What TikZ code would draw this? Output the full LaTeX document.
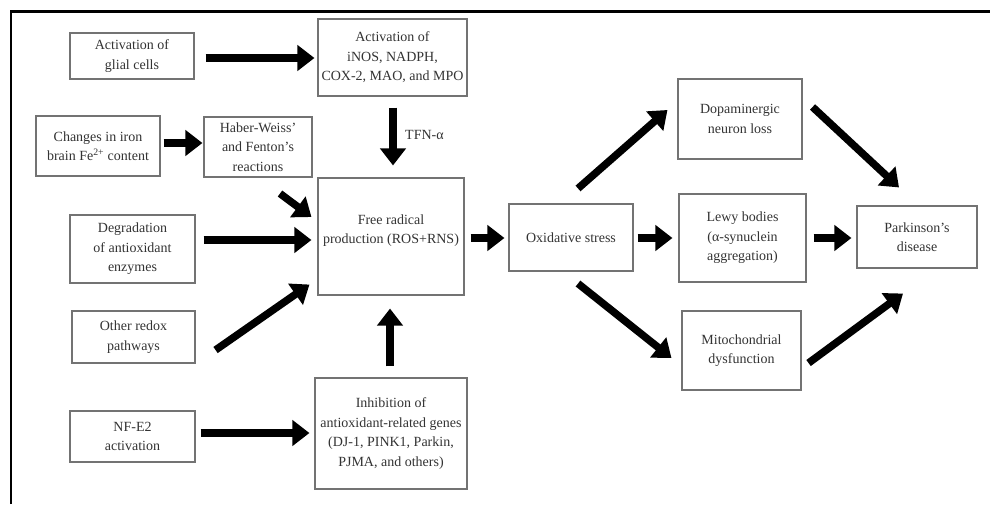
\documentclass[tikz,border=0pt]{standalone}
\usepackage{fontspec}
\setmainfont{Liberation Serif}
\usetikzlibrary{arrows.meta,calc}
\tikzset{
  box/.style={draw=black!55, line width=1.1pt, rectangle, inner sep=0pt, align=center,
    text=black!80, font=\fontsize{14}{19.5}\selectfont},
  arr/.style={line width=7.5pt, draw=black, -{Triangle[width=25pt,length=17pt]}},
  lbl/.style={text=black!80, font=\fontsize{14}{17}\selectfont, inner sep=0pt}
}
\begin{document}
\begin{tikzpicture}[x=1pt,y=-1pt]
\useasboundingbox (0,0) rectangle (990,504);
\fill[white] (0,0) rectangle (990,504);
\draw[line width=2.5pt, black] (11,504) -- (11,11.5) -- (990,11.5);

\node[box, minimum width=124pt, minimum height=46pt] (glial) at (132,56) {Activation of\\glial cells};
\node[box, minimum width=149pt, minimum height=77pt] (inos) at (392.5,57.5) {Activation of\\iNOS, NADPH,\\COX-2, MAO, and MPO};
\node[box, minimum width=124pt, minimum height=60pt] (iron) at (98,146) {Changes in iron\\brain Fe\textsuperscript{2+} content};
\node[box, minimum width=108pt, minimum height=60pt] (haber) at (258,147) {Haber-Weiss’\\and Fenton’s\\reactions};
\node[box, minimum width=146pt, minimum height=117pt] (free) at (391,236.5) {Free radical\\production (ROS+RNS)\\[-4.5pt]};
\node[box, minimum width=125pt, minimum height=68pt] (degr) at (132.5,249) {Degradation\\of antioxidant\\enzymes};
\node[box, minimum width=123pt, minimum height=52pt] (redox) at (133.5,337) {Other redox\\pathways};
\node[box, minimum width=125pt, minimum height=51pt] (nfe) at (132.5,436.5) {NF-E2\\activation};
\node[box, minimum width=152pt, minimum height=111pt] (inhib) at (391,433.5) {Inhibition of\\antioxidant-related genes\\(DJ-1, PINK1, Parkin,\\PJMA, and others)};
\node[box, minimum width=124pt, minimum height=67pt] (oxid) at (571,237.5) {Oxidative stress};
\node[box, minimum width=124pt, minimum height=80pt] (dopa) at (740,119) {Dopaminergic\\neuron loss};
\node[box, minimum width=127pt, minimum height=88pt] (lewy) at (742.5,238) {Lewy bodies\\(α-synuclein\\aggregation)};
\node[box, minimum width=119pt, minimum height=79pt] (mito) at (741.5,350.5) {Mitochondrial\\dysfunction};
\node[box, minimum width=120pt, minimum height=62pt] (park) at (917,237) {Parkinson’s\\disease};

\draw[arr] ($(glial.east)+(11,2)$) -- ($(inos.west)+(-3,0.5)$);
\draw[arr] ($(iron.east)+(3,-3)$) -- ($(haber.west)+(-1,-4)$);
\draw[arr] ($(inos.south)+(0.5,11)$) -- ($(free.north)+(2,-12)$);
\node[lbl, anchor=west] (tfn) at (405,135) {TFN-α};
\draw[arr] ($(haber.south)+(22,16)$) -- ($(free.west)+(-6,-19.5)$);
\draw[arr] ($(degr.east)+(8,-9)$) -- ($(free.west)+(-6,3.5)$);
\draw[arr] ($(redox.east)+(20,13)$) -- ($(free.south west)+(-8,-11)$);
\draw[arr] ($(inhib.north)+(-1,-11)$) -- ($(free.south)+(-1,13)$);
\draw[arr] ($(nfe.east)+(5,-3.5)$) -- ($(inhib.west)+(-5,-0.5)$);
\draw[arr] ($(free.east)+(6,1.5)$) -- ($(oxid.west)+(-4,0.5)$);
\draw[arr] ($(oxid.north)+(7,-15)$) -- ($(dopa.west)+(-10,-9)$);
\draw[arr] ($(oxid.east)+(4,0.5)$) -- ($(lewy.west)+(-6,0)$);
\draw[arr] ($(oxid.south)+(7,12)$) -- ($(mito.west)+(-10,7.5)$);
\draw[arr] ($(dopa.east)+(10,-12)$) -- ($(park.north)+(-18,-18)$);
\draw[arr] ($(lewy.east)+(7,0)$) -- ($(park.west)+(-5,1)$);
\draw[arr] ($(mito.east)+(7,12.5)$) -- ($(park.south)+(-14,25)$);
\end{tikzpicture}
\end{document}
